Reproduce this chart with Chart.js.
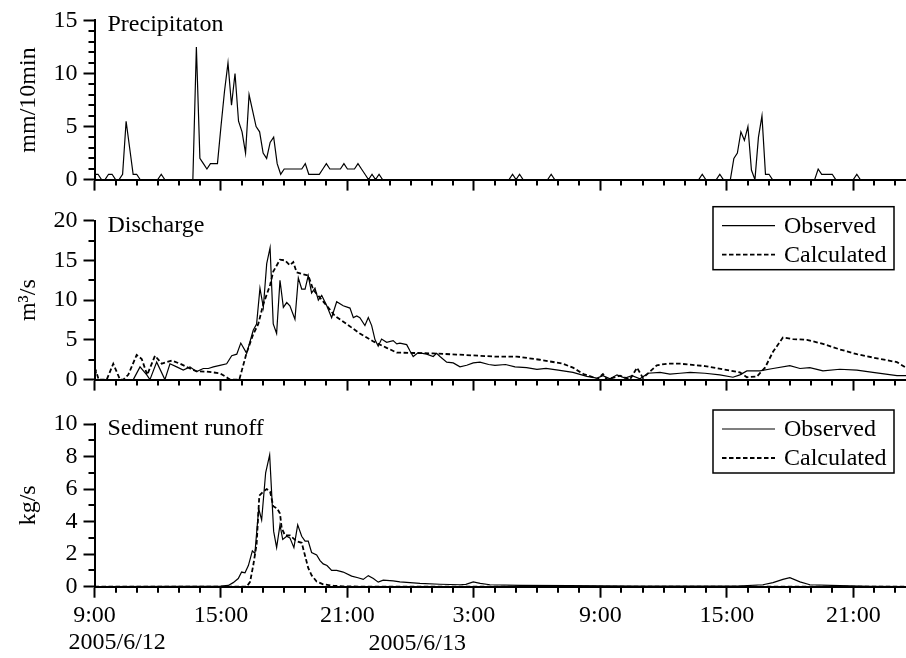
<!DOCTYPE html>
<html lang="en">
<head>
<meta charset="UTF-8">
<title>Precipitation, discharge and sediment runoff</title>
<script src="https://cdn.jsdelivr.net/npm/chart.js"></script>
<style>
  body { margin: 0; background: #fff; }
  .wrap { position: relative; width: 906px; height: 658px; }
  .wrap canvas { position: absolute; left: 0; }
</style>
</head>
<body>
<div class="wrap">
  <canvas id="precipChart" width="906" height="200" style="top:0"></canvas>
  <canvas id="dischargeChart" width="906" height="200" style="top:200px"></canvas>
  <canvas id="sedimentChart" width="906" height="258" style="top:400px"></canvas>
</div>
<script>
// time axis is in hours after 9:00 on 2005/6/12
const startHour = 9;
const endHours = 38.5;
const dateLabels = ['2005/6/12', '2005/6/13'];
const seriesLabels = ['Observed', 'Calculated'];

// precipitation, 10-minute steps after 9:00
const precipStep = [
  0, 1, 2, 3, 4, 5, 6, 7, 8, 9, 10, 11, 12, 13,
  18, 19, 20, 28, 29, 30, 31, 32, 33, 34, 35, 36, 37, 38,
  39, 40, 41, 42, 43, 44, 45, 46, 47, 48, 49, 50, 51, 52,
  53, 54, 59, 60, 61, 64, 65, 66, 67, 70, 71, 72, 74, 75,
  76, 77, 78, 79, 80, 81, 82, 118, 119, 120, 121, 122, 129, 130,
  131, 172, 173, 174, 177, 178, 179, 181, 182, 183, 184, 185, 186, 187,
  188, 189, 190, 191, 192, 193, 205, 206, 207, 210, 211, 216, 217, 218, 231
];
const precipMm = [
  0.5, 0.5, 0, 0, 0.5, 0.5, 0, 0, 0.5, 5.5, 3, 0.5, 0.5, 0,
  0, 0.5, 0, 0, 12.5, 2, 1.5, 1, 1.5, 1.5, 1.5, 5, 8.3, 11,
  7, 10, 5.5, 4.5, 2.5, 8, 6.5, 5, 4.5, 2.5, 2, 3.5, 4, 1.5,
  0.5, 1, 1, 1.5, 0.5, 0.5, 1, 1.5, 1, 1, 1.5, 1, 1, 1.5,
  1, 0.5, 0, 0.5, 0, 0.5, 0, 0, 0.5, 0, 0.5, 0, 0, 0.5,
  0, 0, 0.5, 0, 0, 0.5, 0, 0, 2, 2.5, 4.5, 3.7, 5, 0.9,
  0, 4, 6, 0.5, 0.5, 0, 0, 1, 0.5, 0.5, 0, 0, 0.5, 0, 0
];

// discharge (m3/s)
const dischargeObsHours = [
  1.84, 2.16, 2.48, 2.63, 2.95, 3.34, 3.58, 3.90, 4.21, 4.53,
  4.85, 5.16, 5.40, 5.64, 5.95, 6.27, 6.51, 6.75, 6.94, 7.22,
  7.53, 7.69, 7.85, 8.01, 8.17, 8.33, 8.48, 8.64, 8.80, 8.96,
  9.12, 9.27, 9.51, 9.67, 9.83, 9.99, 10.14, 10.30, 10.46, 10.62,
  10.78, 11.02, 11.25, 11.49, 11.80, 12.12, 12.28, 12.44, 12.59, 12.83,
  12.99, 13.15, 13.31, 13.46, 13.62, 13.86, 14.17, 14.34, 14.49, 14.81,
  14.97, 15.12, 15.36, 15.76, 16.07, 16.23, 16.39, 16.71, 17.02, 17.34,
  17.66, 17.97, 18.29, 18.70, 19.00, 19.50, 19.95, 20.50, 20.99, 21.42,
  22.00, 22.70, 23.36, 23.84, 24.12, 24.46, 24.79, 25.17, 25.50, 25.88,
  26.26, 26.83, 27.30, 27.78, 28.26, 28.96, 29.67, 30.29, 30.62, 30.95,
  31.57, 32.19, 32.99, 33.47, 33.94, 34.56, 35.36, 36.17, 36.93, 38.07,
  38.50
];
const dischargeObs = [
  0, 1.6, 0.6, 0, 2.2, 0, 2.0, 1.6, 1.2, 1.6,
  1.0, 1.4, 1.4, 1.6, 1.8, 2.0, 3.0, 3.2, 4.6, 3.3,
  6.2, 7.0, 11.5, 9.1, 14.6, 16.6, 7.0, 5.8, 12.5, 9.1,
  9.7, 9.3, 7.6, 12.8, 11.4, 11.4, 13.1, 10.9, 11.5, 10.0,
  10.6, 9.3, 7.8, 9.8, 9.3, 9.0, 7.8, 8.0, 7.8, 6.8,
  7.8, 6.8, 5.0, 4.2, 5.1, 4.7, 4.9, 4.5, 4.6, 4.4,
  3.6, 2.9, 3.4, 3.2, 2.9, 3.3, 2.9, 2.2, 2.1, 1.6,
  1.8, 2.1, 2.2, 1.9, 1.8, 1.9, 1.6, 1.5, 1.3, 1.4,
  1.2, 0.9, 0.4, 0.2, 0.5, 0.1, 0.6, 0.2, 0.5, 0.1,
  0.8, 0.9, 0.7, 0.8, 0.9, 0.8, 0.6, 0.3, 0.6, 1.1,
  1.1, 1.4, 1.75, 1.4, 1.5, 1.1, 1.3, 1.2, 0.9, 0.5,
  0.5
];
const dischargeCalHours = [
  0, 0.08, 0.20, 0.58, 0.89, 1.21, 1.37, 1.60, 2.00, 2.24,
  2.50, 2.87, 3.19, 3.66, 4.06, 4.53, 4.85, 5.32, 5.95, 6.35,
  6.43, 6.87, 7.22, 7.53, 7.77, 8.01, 8.33, 8.48, 8.80, 9.04,
  9.27, 9.43, 9.59, 9.83, 10.14, 10.38, 10.70, 11.02, 11.41, 11.96,
  12.59, 13.23, 13.86, 14.34, 15.12, 16.07, 17.18, 18.29, 19.00, 20.04,
  21.13, 22.23, 22.70, 23.20, 23.65, 23.84, 24.12, 24.31, 24.93, 25.40,
  25.74, 26.02, 26.68, 27.16, 27.78, 28.96, 29.81, 30.62, 30.95, 31.43,
  31.81, 32.19, 32.66, 33.14, 33.80, 34.56, 35.36, 36.17, 37.26, 38.07,
  38.50
];
const dischargeCal = [
  0.5, 1.0, 0, 0, 2.0, 0, 0, 0.6, 3.1, 2.6,
  0.6, 3.0, 2.0, 2.4, 2.0, 1.4, 1.05, 1.0, 0.8, 0.15,
  0, 0, 3.4, 5.7, 7.0, 9.5, 11.9, 13.6, 15.1, 15.0,
  14.4, 14.8, 13.5, 13.3, 13.1, 11.3, 10.3, 9.3, 8.0, 7.0,
  5.8, 4.8, 4.0, 3.4, 3.35, 3.3, 3.15, 3.0, 2.9, 2.9,
  2.5, 2.0, 1.5, 0.7, 0.3, 0, 0.7, 0, 0.5, 0,
  1.5, 0.2, 1.8, 2.0, 2.0, 1.7, 1.3, 0.9, 0.3, 0.4,
  1.5, 3.5, 5.3, 5.1, 5.0, 4.5, 3.8, 3.2, 2.6, 2.2,
  1.5
];

// sediment runoff (kg/s)
const sedimentObsHours = [
  0, 4.50, 6.00, 6.35, 6.58, 6.82, 6.98, 7.14, 7.30, 7.49,
  7.61, 7.79, 7.93, 8.12, 8.31, 8.50, 8.64, 8.80, 8.93, 9.12,
  9.27, 9.46, 9.64, 9.83, 9.99, 10.14, 10.30, 10.54, 10.70, 10.85,
  11.03, 11.25, 11.49, 11.80, 12.20, 12.50, 12.75, 12.99, 13.23, 13.46,
  13.70, 14.17, 14.49, 14.97, 15.44, 16.39, 17.34, 17.62, 17.97, 18.30,
  18.76, 20.19, 22.50, 25.88, 30.50, 31.71, 32.19, 32.66, 32.99, 33.47,
  33.94, 35.36, 36.79, 38.50
];
const sedimentObs = [
  0, 0.02, 0.03, 0.08, 0.25, 0.5, 0.9, 0.85, 1.3, 2.2,
  2.05, 4.8, 4.1, 7.0, 8.1, 3.4, 2.4, 3.8, 2.9, 3.1,
  3.0, 2.4, 3.8, 3.1, 2.8, 2.8, 2.1, 1.95, 1.6, 1.4,
  1.3, 1.0, 1.0, 0.9, 0.65, 0.55, 0.45, 0.68, 0.5, 0.28,
  0.4, 0.36, 0.3, 0.25, 0.2, 0.15, 0.12, 0.14, 0.3, 0.2,
  0.12, 0.08, 0.06, 0.03, 0.03, 0.12, 0.25, 0.45, 0.55, 0.3,
  0.12, 0.06, 0.02, 0
];
const sedimentCalHours = [
  0, 7.22, 7.38, 7.53, 7.69, 7.82, 8.01, 8.17, 8.33, 8.48,
  8.67, 8.80, 8.88, 9.04, 9.27, 9.59, 9.83, 9.99, 10.14, 10.30,
  10.54, 10.85, 11.33, 11.80, 13.00, 38.50
];
const sedimentCal = [
  0, 0, 0.3, 1.3, 2.6, 5.6, 5.85, 6.0, 5.85, 4.95,
  4.8, 4.5, 3.6, 3.15, 3.15, 2.8, 2.7, 1.9, 1.15, 0.7,
  0.32, 0.15, 0.06, 0.02, 0, 0
];

const FONT = '"Liberation Serif", "Times New Roman", serif';
Chart.defaults.font.family = FONT;
Chart.defaults.font.size = 24;
Chart.defaults.color = '#000';

function toPoints(xs, ys, k = 1) {
  return xs.map((x, i) => ({ x: x * k, y: ys[i] }));
}

function solid(label, data) {
  return { label, data, borderColor: '#000', borderWidth: 1.2, pointRadius: 0, tension: 0, fill: false };
}
function dashed(label, data) {
  return { label, data, borderColor: '#000', borderWidth: 1.8, borderDash: [4.5, 2.5], pointRadius: 0, tension: 0, fill: false };
}

// minor ticks, panel title, boxed legend and the date line
const panelDecor = {
  id: 'panelDecor',
  afterDraw(chart, args, opts) {
    const { ctx, chartArea: a, scales: { x, y } } = chart;
    ctx.save();
    ctx.strokeStyle = '#000';
    ctx.lineWidth = 2;
    ctx.beginPath();
    for (let v = 1; v <= x.max; v++) {
      if (v % 6 === 0) continue;
      const px = Math.round(x.getPixelForValue(v));
      ctx.moveTo(px, a.bottom);
      ctx.lineTo(px, a.bottom + 6);
    }
    for (let v = opts.yMinor; v < y.max; v += opts.yMinor) {
      if (v % opts.yMajor === 0) continue;
      const py = Math.round(y.getPixelForValue(v));
      ctx.moveTo(a.left - 6, py);
      ctx.lineTo(a.left, py);
    }
    ctx.stroke();

    ctx.fillStyle = '#000';
    ctx.font = '24px ' + FONT;
    ctx.textBaseline = 'alphabetic';
    ctx.textAlign = 'left';
    ctx.fillText(opts.title, a.left + 13, a.top + 11);

    if (opts.legend) {
      const bx = a.right - 193, by = a.top - 14;
      ctx.lineWidth = 1.5;
      ctx.strokeRect(bx, by, 181, 63);
      chart.data.datasets.forEach((ds, i) => {
        const ry = by + 19 + i * 29;
        ctx.lineWidth = ds.borderWidth;
        ctx.setLineDash(ds.borderDash || []);
        ctx.beginPath();
        ctx.moveTo(bx + 9, ry);
        ctx.lineTo(bx + 62, ry);
        ctx.stroke();
        ctx.setLineDash([]);
        ctx.textBaseline = 'middle';
        ctx.fillText(ds.label, bx + 71, ry + 1);
      });
    }

    if (opts.dates) {
      ctx.textBaseline = 'alphabetic';
      ctx.textAlign = 'left';
      ctx.fillText(dateLabels[0], x.getPixelForValue(0) - 26, a.bottom + 62);
      ctx.textAlign = 'right';
      ctx.fillText(dateLabels[1], x.getPixelForValue(18) - 8, a.bottom + 63);
    }
    ctx.restore();
  }
};

function timeAxis(showLabels, height) {
  return {
    type: 'linear',
    min: 0,
    max: endHours,
    border: { display: true, color: '#000', width: 2 },
    grid: { drawOnChartArea: false, drawTicks: true, tickLength: 11, tickWidth: 2, tickColor: '#000' },
    ticks: {
      display: showLabels,
      stepSize: 6,
      includeBounds: false,
      autoSkip: false,
      maxRotation: 0,
      padding: 4,
      callback: v => ((startHour + v) % 24) + ':00'
    },
    afterFit: s => { s.height = height; }
  };
}

function valueAxis(max, step, title) {
  return {
    min: 0,
    max: max,
    border: { display: true, color: '#000', width: 2 },
    grid: { drawOnChartArea: false, drawTicks: true, tickLength: 11, tickWidth: 2, tickColor: '#000' },
    ticks: { stepSize: step, padding: 6 },
    title: { display: true, text: title, padding: { top: 14, bottom: 0 } },
    afterFit: s => { s.width = 94.5; }
  };
}

function makeChart(id, datasets, opts) {
  return new Chart(document.getElementById(id), {
    type: 'line',
    data: { datasets },
    options: {
      responsive: false,
      animation: false,
      parsing: true,
      layout: { padding: { top: opts.top, left: 0, right: 0, bottom: 0 } },
      scales: {
        x: timeAxis(opts.showX, opts.xHeight),
        y: valueAxis(opts.yMax, opts.yStep, opts.yTitle)
      },
      plugins: {
        legend: { display: false },
        tooltip: { enabled: false },
        panelDecor: {
          title: opts.title, legend: opts.legend, dates: opts.showX,
          yMinor: opts.yMinor, yMajor: opts.yStep
        }
      }
    },
    plugins: [panelDecor]
  });
}

makeChart('precipChart',
  [solid('Precipitation', toPoints(precipStep, precipMm, 1 / 6))],
  { top: 18.3, xHeight: 17, showX: false, yMax: 15, yStep: 5, yMinor: 1,
    yTitle: 'mm/10min', title: 'Precipitaton', legend: false });

makeChart('dischargeChart',
  [solid(seriesLabels[0], toPoints(dischargeObsHours, dischargeObs)),
   dashed(seriesLabels[1], toPoints(dischargeCalHours, dischargeCal))],
  { top: 20.7, xHeight: 15.7, showX: false, yMax: 20, yStep: 5, yMinor: 2.5,
    yTitle: 'm\u00b3/s', title: 'Discharge', legend: true });

makeChart('sedimentChart',
  [solid(seriesLabels[0], toPoints(sedimentObsHours, sedimentObs)),
   dashed(seriesLabels[1], toPoints(sedimentCalHours, sedimentCal))],
  { top: 24, xHeight: 71.3, showX: true, yMax: 10, yStep: 2, yMinor: 1,
    yTitle: 'kg/s', title: 'Sediment runoff', legend: true });
</script>
</body>
</html>
